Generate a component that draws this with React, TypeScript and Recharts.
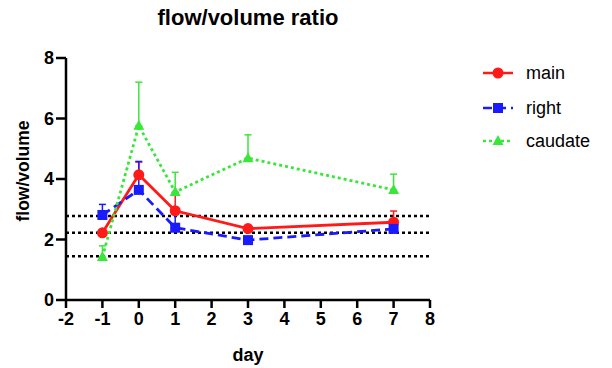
import React from 'react'
import {
  ComposedChart,
  Line,
  XAxis,
  YAxis,
  ErrorBar,
  ReferenceLine,
} from 'recharts'

// values
const days = [-1, 0, 1, 3, 7]
const mainValues = [2.22, 4.14, 2.95, 2.36, 2.57]
const mainErrors = [0.1, 0.42, 0.6, 0.1, 0.37]
const rightValues = [2.81, 3.64, 2.39, 1.98, 2.35]
const rightErrors = [0.35, 0.94, 0.45, 0.1, 0.15]
const caudateValues = [1.42, 5.76, 3.57, 4.69, 3.64]
const caudateErrors = [0.37, 1.44, 0.65, 0.77, 0.52]

const xTicks = [-2, -1, 0, 1, 2, 3, 4, 5, 6, 7, 8]
const yTicks = [0, 2, 4, 6, 8]
const refLevels = [2.78, 2.22, 1.45]

const FONT = '"Liberation Sans", Arial, sans-serif'
const RED = '#ff1a1a'
const BLUE = '#1a1aff'
const GREEN = '#3be63b'

const data = days.map((day, i) => ({
  day,
  main: mainValues[i],
  mainErr: [0, mainErrors[i]],
  right: rightValues[i],
  rightErr: [0, rightErrors[i]],
  caudate: caudateValues[i],
  caudateErr: [0, caudateErrors[i]],
}))

type Shape = 'circle' | 'square' | 'triangle'

function Marker({ cx, cy, shape, color }: { cx: number; cy: number; shape: Shape; color: string }) {
  if (shape === 'circle') return <circle cx={cx} cy={cy} r={5.5} fill={color} />
  if (shape === 'square') return <rect x={cx - 5} y={cy - 5} width={10} height={10} fill={color} />
  return <polygon points={`${cx},${cy - 6} ${cx + 5.5},${cy + 4} ${cx - 5.5},${cy + 4}`} fill={color} />
}

const series = [
  { key: 'main', name: 'main', color: RED, dash: undefined, shape: 'circle' as Shape },
  { key: 'right', name: 'right', color: BLUE, dash: '9 5', shape: 'square' as Shape },
  { key: 'caudate', name: 'caudate', color: GREEN, dash: '3 3', shape: 'triangle' as Shape },
]

const legendRows = [73, 108, 141]

export default function App() {
  return (
    <div style={{ position: 'absolute', left: 0, top: 0, width: 612, height: 368, background: '#fff', fontFamily: FONT }}>
      <div
        style={{
          position: 'absolute',
          left: 0,
          width: 496,
          top: 5,
          textAlign: 'center',
          fontSize: 22,
          fontWeight: 'bold',
          color: '#000',
        }}
      >
        flow/volume ratio
      </div>

      <ComposedChart width={612} height={368} data={data} margin={{ top: 58, right: 182, bottom: 28, left: 0 }}>
        <XAxis
          dataKey="day"
          type="number"
          domain={[-2, 8]}
          ticks={xTicks}
          interval={0}
          height={40}
          axisLine={{ stroke: '#000', strokeWidth: 2.5 }}
          tickLine={{ stroke: '#000', strokeWidth: 2.5 }}
          tickSize={8}
          tickMargin={4}
          tick={{ fill: '#000', fontSize: 18, fontWeight: 'bold', fontFamily: FONT }}
          label={{
            content: ({ viewBox }: any) => (
              <text
                x={viewBox.x + viewBox.width / 2}
                y={361}
                textAnchor="middle"
                fontSize={18}
                fontWeight="bold"
                fontFamily={FONT}
                fill="#000"
              >
                day
              </text>
            ),
          }}
        />
        <YAxis
          type="number"
          domain={[0, 8]}
          ticks={yTicks}
          interval={0}
          width={66}
          axisLine={{ stroke: '#000', strokeWidth: 2.5 }}
          tickLine={{ stroke: '#000', strokeWidth: 2.5 }}
          tickSize={10}
          tickMargin={2}
          tick={{ fill: '#000', fontSize: 18, fontWeight: 'bold', fontFamily: FONT }}
          label={{
            content: ({ viewBox }: any) => {
              const cx = 23
              const cy = viewBox.y + viewBox.height / 2 - 8
              return (
                <text
                  x={cx}
                  y={cy}
                  transform={`rotate(-90 ${cx} ${cy})`}
                  textAnchor="middle"
                  dominantBaseline="central"
                  fontSize={17.5}
                  fontWeight="bold"
                  fontFamily={FONT}
                  fill="#000"
                >
                  flow/volume
                </text>
              )
            },
          }}
        />

        {refLevels.map((v) => (
          <ReferenceLine key={v} y={v} stroke="#000" strokeWidth={2.5} strokeDasharray="3 3" />
        ))}

        {series.map((s) => (
          <Line
            key={s.key}
            type="linear"
            dataKey={s.key}
            name={s.name}
            stroke={s.color}
            strokeWidth={2.8}
            strokeDasharray={s.dash}
            isAnimationActive={false}
            activeDot={false}
            dot={(p: any) => <Marker key={`${s.key}-${p.index}`} cx={p.cx} cy={p.cy} shape={s.shape} color={s.color} />}
          >
            <ErrorBar dataKey={`${s.key}Err`} direction="y" width={3.5} stroke={s.color} strokeWidth={1.5} />
          </Line>
        ))}
      </ComposedChart>

      {series.map((s, i) => (
        <div
          key={s.key}
          style={{
            position: 'absolute',
            left: 482,
            top: legendRows[i] - 12,
            height: 24,
            display: 'flex',
            alignItems: 'center',
          }}
        >
          <svg width={32} height={14} style={{ marginRight: 12 }}>
            <line x1={1} y1={7} x2={31} y2={7} stroke={s.color} strokeWidth={2.5} strokeDasharray={s.dash} />
            <Marker cx={16} cy={7} shape={s.shape} color={s.color} />
          </svg>
          <span style={{ fontSize: 18, color: '#000' }}>{s.name}</span>
        </div>
      ))}
    </div>
  )
}
